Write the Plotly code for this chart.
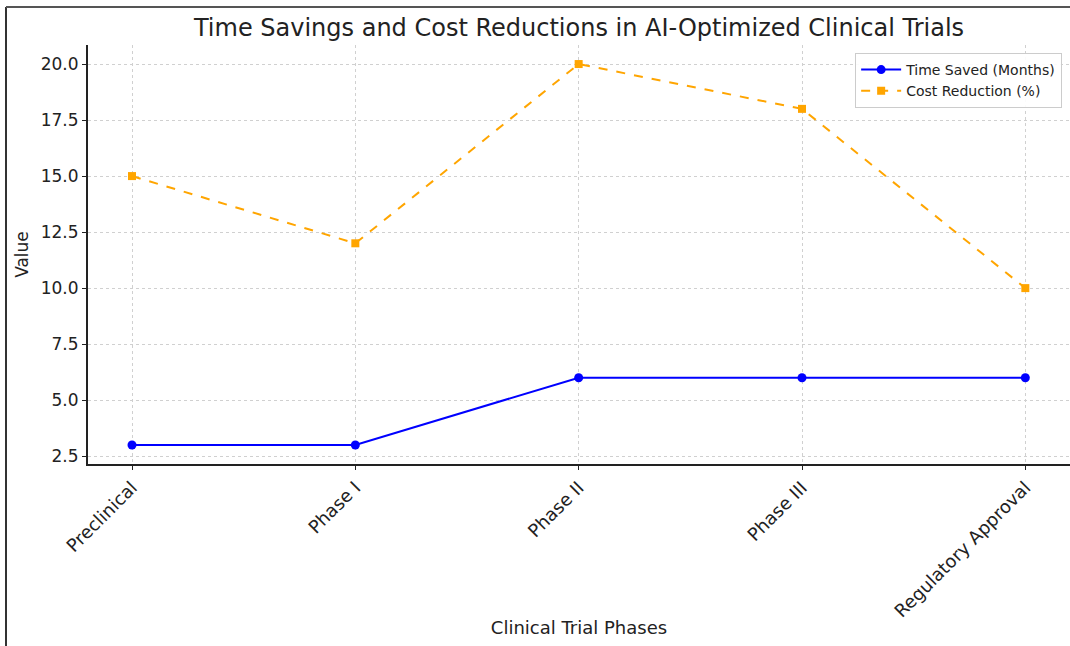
import plotly.graph_objects as go

# Clinical trial phases and the savings achieved with AI optimisation
phases = ["Preclinical", "Phase I", "Phase II", "Phase III", "Regulatory Approval"]
time_saved_months = [3, 3, 6, 6, 6]
cost_reduction_pct = [15, 12, 20, 18, 10]
y_ticks = [2.5, 5.0, 7.5, 10.0, 12.5, 15.0, 17.5, 20.0]

FONT = "DejaVu Sans"
W, H = 1070, 646
L, R, T, B = 88, 0, 45, 182
pw, ph = W - L - R, H - T - B

fig = go.Figure()
fig.add_trace(go.Scatter(
    x=list(range(len(phases))), y=time_saved_months,
    mode="lines+markers", name="Time Saved (Months)",
    line=dict(color="#0000ff", width=2),
    marker=dict(symbol="circle", size=9, color="#0000ff"),
))
fig.add_trace(go.Scatter(
    x=list(range(len(phases))), y=cost_reduction_pct,
    mode="lines+markers", name="Cost Reduction (%)",
    line=dict(color="#ffa500", width=2, dash="dash"),
    marker=dict(symbol="square", size=8, color="#ffa500"),
))

# outer frame lines (left and top)
fig.add_shape(type="line", xref="paper", yref="paper",
              x0=(6 - L) / pw, x1=(6 - L) / pw, y0=-(H - T - ph) / ph, y1=1 + (T - 7) / ph,
              line=dict(color="#333333", width=2))
fig.add_shape(type="line", xref="paper", yref="paper",
              x0=(6 - L) / pw, x1=1.0, y0=1 + (T - 7) / ph, y1=1 + (T - 7) / ph,
              line=dict(color="#555555", width=2))

fig.update_layout(
    width=W, height=H,
    margin=dict(l=L, r=R, t=T, b=B),
    paper_bgcolor="white", plot_bgcolor="white",
    font=dict(family=FONT, color="#222222"),
    title=dict(text="Time Savings and Cost Reductions in AI-Optimized Clinical Trials",
               x=(L + pw / 2) / W, xanchor="center", y=1 - 28 / H, yanchor="middle",
               font=dict(size=24, family=FONT, color="#222222")),
    legend=dict(x=0.992, xanchor="right", y=0.981, yanchor="top",
                bgcolor="rgba(255,255,255,0.9)", bordercolor="#cccccc", borderwidth=1,
                font=dict(size=14, family=FONT, color="#222222"),
                itemwidth=40),
    showlegend=True,
)
fig.update_xaxes(
    range=[-0.197, 4.2],
    tickmode="array", tickvals=list(range(len(phases))), ticktext=phases,
    tickangle=-45, tickfont=dict(size=18, family=FONT, color="#222222"),
    ticks="outside", ticklen=4, tickcolor="#222222",
    showline=True, linecolor="#222222", linewidth=2, mirror=False,
    showgrid=True, gridcolor="#d0d0d0", griddash="dot", gridwidth=1,
    zeroline=False,
    title=dict(text="Clinical Trial Phases", font=dict(size=18, family=FONT, color="#222222"),
               standoff=1),
)
fig.update_yaxes(
    range=[2.15, 20.85],
    tickmode="array", tickvals=y_ticks, ticktext=[f"{v:.1f}" for v in y_ticks],
    tickfont=dict(size=17, family=FONT, color="#222222"),
    ticks="outside", ticklen=4, tickcolor="#222222",
    showline=True, linecolor="#222222", linewidth=2, mirror=False,
    showgrid=True, gridcolor="#d0d0d0", griddash="dot", gridwidth=1,
    zeroline=False,
    title=dict(text="Value", font=dict(size=17, family=FONT, color="#222222"), standoff=8),
)

fig.write_html("out.html")
